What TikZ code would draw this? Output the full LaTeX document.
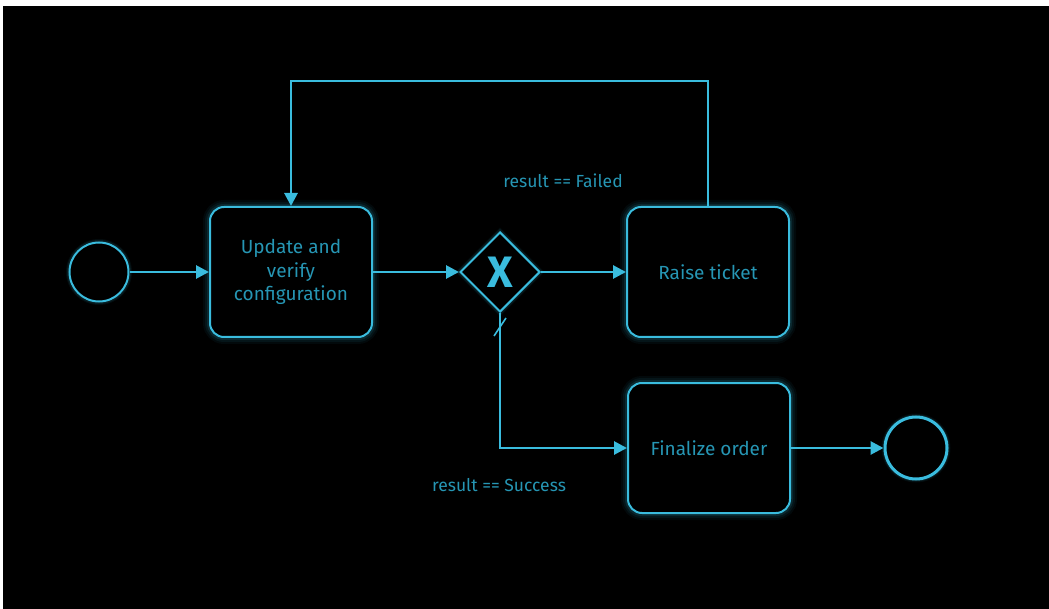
\documentclass[tikz,border=0pt]{standalone}
\usepackage{fontspec}
\setmainfont{Fira Sans}
\usetikzlibrary{shapes.geometric,arrows.meta}
\definecolor{flow}{RGB}{58,188,222}
\definecolor{label}{RGB}{38,150,180}
\tikzset{
  glow/.style={
    preaction={draw=flow,line width=14pt,draw opacity=0.05},
    preaction={draw=flow,line width=10pt,draw opacity=0.07},
    preaction={draw=flow,line width=6pt,draw opacity=0.12}},
  softglow/.style={
    preaction={draw=flow,line width=7pt,draw opacity=0.06,-},
    preaction={draw=flow,line width=5pt,draw opacity=0.10,-}},
  task/.style={draw=flow,line width=2pt,fill=black,rounded corners=14pt,
    minimum width=162pt,minimum height=130pt,align=center,text=label,
    font=\fontsize{19}{23.5}\selectfont,glow},
  event/.style={circle,draw=flow,fill=black,inner sep=0pt},
  gateway/.style={diamond,draw=flow,line width=2pt,fill=black,inner sep=0pt,
    minimum width=80pt,minimum height=80pt,softglow},
  seqflow/.style={draw=flow,line width=2.8pt,
    -{Triangle[length=13pt,width=13pt]}},
  guard/.style={text=label,font=\fontsize{17.5}{20}\selectfont}
}
\begin{document}
\begin{tikzpicture}[x=1pt,y=-1pt]
  % canvas
  \fill[white] (0,0) rectangle (1049,609);
  \fill[black] (3,6) rectangle (1049,609);
  \useasboundingbox (0,0) rectangle (1049,609);

  % flow nodes
  \node[event,line width=2pt,minimum size=59pt,softglow] (start) at (99,272) {};
  \node[task] (update) at (291,272) {Update and\\verify\\configuration};
  \node[gateway] (xor) at (500,272)
    {\textcolor{flow}{\fontsize{44}{44}\selectfont\bfseries X}};
  \node[task] (ticket) at (708,272) {Raise ticket};
  \node[task] (final) at (709,448) {Finalize order};
  \node[event,line width=3pt,minimum size=62pt,softglow] (stop) at (916,448) {};

  % loop-back route
  \coordinate (loopR) at (708,81);
  \coordinate (loopL) at (291,81);

  % sequence flows
  \draw[seqflow] (start) -- (update);
  \draw[seqflow] (update) -- (xor);
  \draw[seqflow] (xor) -- (ticket);
  \draw[seqflow] (ticket.north) -- (loopR) -- (loopL) -- (update.north);
  \draw[seqflow] (xor.south) |- (final.west);
  \draw[seqflow] (final) -- (stop);

  % default-flow marker
  \draw[draw=flow,line width=1.6pt]
    ([shift={(-6pt,-6pt)}]xor.south |- 0,330) -- ([shift={(6pt,6pt)}]xor.south |- 0,324);

  % conditions
  \node[guard] (failed) at (563,181) {result == Failed};
  \node[guard] (success) at (499,485) {result == Success};
\end{tikzpicture}
\end{document}
